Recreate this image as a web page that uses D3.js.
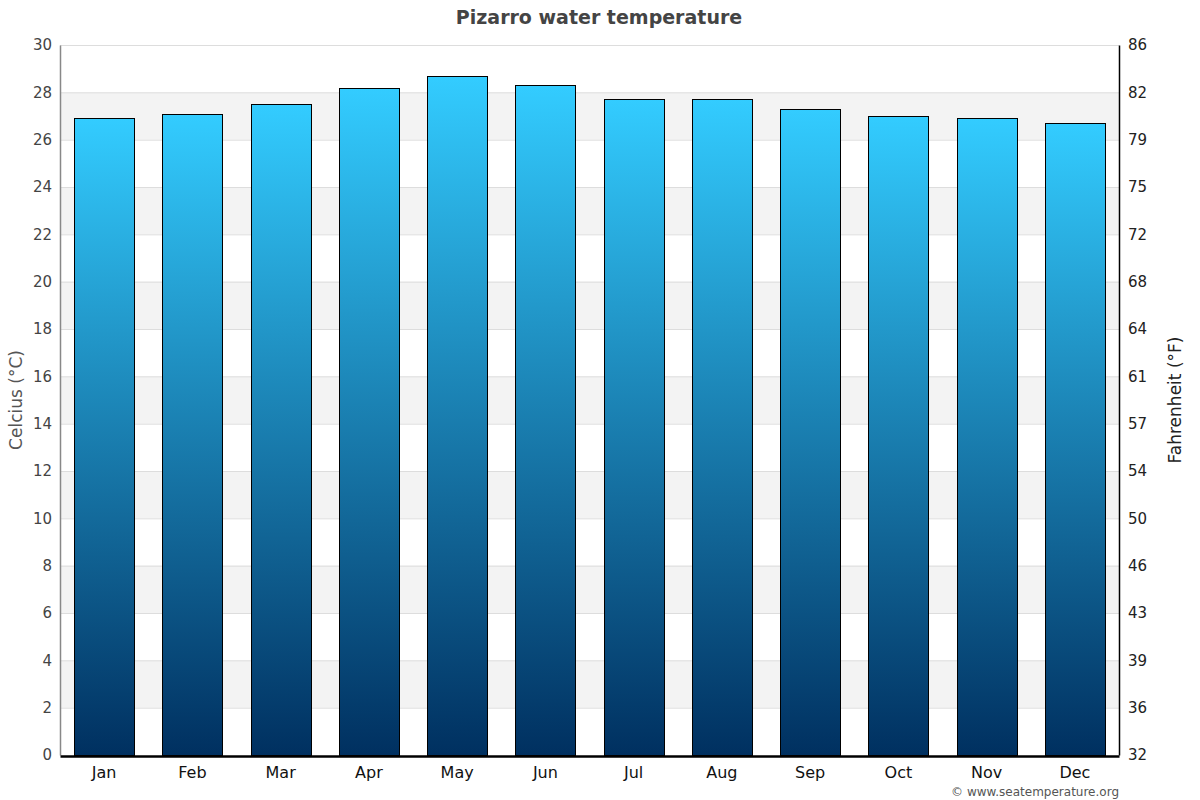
<!DOCTYPE html>
<html>
<head>
<meta charset="utf-8">
<script src="https://cdn.jsdelivr.net/npm/d3@7/dist/d3.min.js"></script>
<style>
  body { margin: 0; background: #fff; }
  svg { font-family: "DejaVu Sans", sans-serif; }
</style>
</head>
<body>
<div id="chart"></div>
<script>
// data
var months = ["Jan", "Feb", "Mar", "Apr", "May", "Jun", "Jul", "Aug", "Sep", "Oct", "Nov", "Dec"];
var tempC = [26.9, 27.1, 27.5, 28.2, 28.7, 28.3, 27.7, 27.7, 27.3, 27.0, 26.9, 26.7];
var cTicks = [0, 2, 4, 6, 8, 10, 12, 14, 16, 18, 20, 22, 24, 26, 28, 30];
var fTickLabels = ["32", "36", "39", "43", "46", "50", "54", "57", "61", "64", "68", "72", "75", "79", "82", "86"];

var width = 1200, height = 800;
var margin = {top: 45, right: 81, bottom: 45, left: 60};
var innerW = width - margin.left - margin.right;
var innerH = height - margin.top - margin.bottom;

var svg = d3.select("#chart").append("svg")
    .attr("width", width)
    .attr("height", height);

var defs = svg.append("defs");
var grad = defs.append("linearGradient")
    .attr("id", "barGrad")
    .attr("x1", 0).attr("y1", 0).attr("x2", 0).attr("y2", 1);
grad.append("stop").attr("offset", "0%").attr("stop-color", "#33ccff");
grad.append("stop").attr("offset", "100%").attr("stop-color", "#003060");

var g = svg.append("g").attr("transform", "translate(" + margin.left + "," + margin.top + ")");

var x = d3.scaleBand().domain(months).range([0, innerW]).paddingInner(0.32).paddingOuter(0.16);
var y = d3.scaleLinear().domain([0, 30]).range([innerH, 0]);

// alternating bands
g.selectAll("rect.band")
    .data(cTicks.slice(0, -1).filter(function (d, i) { return i % 2 === 1; }))
    .enter().append("rect")
    .attr("class", "band")
    .attr("x", 0)
    .attr("width", innerW)
    .attr("y", function (d) { return y(d + 2); })
    .attr("height", function (d) { return y(d) - y(d + 2); })
    .attr("fill", "#f3f3f3");

// grid lines
g.selectAll("line.grid")
    .data(cTicks.slice(1))
    .enter().append("line")
    .attr("class", "grid")
    .attr("x1", 0).attr("x2", innerW)
    .attr("y1", function (d) { return y(d) + 0.5; })
    .attr("y2", function (d) { return y(d) + 0.5; })
    .attr("stroke", "#dddddd");

// bars
g.selectAll("rect.bar")
    .data(tempC)
    .enter().append("rect")
    .attr("class", "bar")
    .attr("x", function (d, i) { return Math.round(x(months[i])) + 0.5; })
    .attr("y", function (d) { return Math.round(y(d)) + 0.5; })
    .attr("width", Math.round(x.bandwidth()))
    .attr("height", function (d) { return innerH - Math.round(y(d)); })
    .attr("fill", "url(#barGrad)")
    .attr("stroke", "#000")
    .attr("stroke-width", 1);

// left axis
var leftAxis = g.append("g")
    .call(d3.axisLeft(y).tickValues(cTicks).tickSize(0).tickPadding(8));
leftAxis.select(".domain").attr("stroke", "#888").attr("stroke-width", 1.5);
leftAxis.selectAll("text").attr("font-size", 15).attr("fill", "#444")
    .attr("font-family", "DejaVu Sans, sans-serif");

// right axis (Fahrenheit labels at Celsius tick positions)
var rightAxis = g.append("g")
    .attr("transform", "translate(" + innerW + ",0)")
    .call(d3.axisRight(y).tickValues(cTicks).tickSize(0).tickPadding(9)
        .tickFormat(function (d, i) { return fTickLabels[i]; }));
rightAxis.select(".domain").attr("stroke", "#000").attr("stroke-width", 1.5);
rightAxis.selectAll("text").attr("font-size", 15).attr("fill", "#222")
    .attr("font-family", "DejaVu Sans, sans-serif");

// bottom axis
var bottomAxis = g.append("g")
    .attr("transform", "translate(0," + innerH + ")")
    .call(d3.axisBottom(x).tickSize(0).tickPadding(12));
bottomAxis.select(".domain").attr("stroke", "#000").attr("stroke-width", 2.5)
    .attr("transform", "translate(0,1)");
bottomAxis.selectAll("text").attr("font-size", 16).attr("fill", "#111")
    .attr("font-family", "DejaVu Sans, sans-serif");

// title
svg.append("text")
    .attr("x", 599).attr("y", 24)
    .attr("text-anchor", "middle")
    .attr("font-size", 19).attr("font-weight", "bold")
    .attr("fill", "#444")
    .text("Pizarro water temperature");

// axis titles
svg.append("text")
    .attr("transform", "translate(22," + (margin.top + innerH / 2) + ") rotate(-90)")
    .attr("text-anchor", "middle")
    .attr("font-size", 17).attr("fill", "#555")
    .text("Celcius (°C)");

svg.append("text")
    .attr("transform", "translate(1181," + (margin.top + innerH / 2) + ") rotate(-90)")
    .attr("text-anchor", "middle")
    .attr("font-size", 17).attr("fill", "#222")
    .text("Fahrenheit (°F)");

// credit
svg.append("text")
    .attr("x", 1119).attr("y", 796)
    .attr("text-anchor", "end")
    .attr("font-size", 12).attr("fill", "#555")
    .text("© www.seatemperature.org");
</script>
</body>
</html>
